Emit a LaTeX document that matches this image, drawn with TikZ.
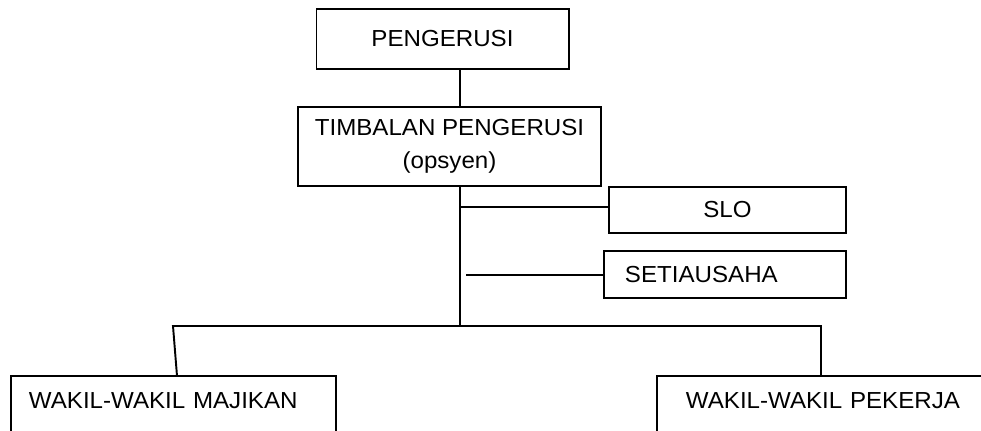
\documentclass[tikz,border=0pt]{standalone}
\usepackage{fontspec}
\setmainfont{Liberation Sans}[FakeStretch=1.04]
\begin{document}
\begin{tikzpicture}[x=0.02cm, y=-0.02cm,
    kotak/.style={draw, line width=1.1pt, inner sep=0pt, font=\fontsize{13.2}{18.5}\selectfont},
    garis/.style={line width=1.1pt}]
    % 1. Bingkai gambar
    \useasboundingbox (0,0) rectangle (981,430);
    \clip (0,0) rectangle (981,430);

    % 2. Kotak-kotak jawatan
    \node[kotak, line width=0.6pt, minimum width=5.06cm, minimum height=1.2cm] (ketua) at (442.5,39) {PENGERUSI};
    \node[kotak, minimum width=6.06cm, minimum height=1.58cm, align=center] (timbalan) at (449.5,146.5) {TIMBALAN PENGERUSI\\(opsyen)};
    \node[kotak, minimum width=4.74cm, minimum height=0.92cm] (slo) at (727.5,210) {SLO};
    \node[kotak, anchor=west, minimum height=0.94cm, inner xsep=0.42cm, text width=4.0cm, align=left] (setia) at (603,274.5) {SETIAUSAHA};
    \node[kotak, anchor=north west, inner xsep=0.36cm, text width=5.78cm, align=left,
        text height=0.66cm, text depth=1.2cm] (majikan) at (10,375) {WAKIL-WAKIL MAJIKAN};
    \node[kotak, anchor=north west, inner xsep=0.58cm, text width=6.84cm, align=left,
        text height=0.66cm, text depth=1.2cm] (pekerja) at (656,375) {WAKIL-WAKIL PEKERJA};

    % 3. Garis penghubung
    \coordinate (simpang) at (460,326);
    \coordinate (kiri) at (173,326);
    \coordinate (kanan) at (821,326);
    \draw[line width=0.6pt] (ketua.south -| simpang) -- (timbalan.north -| simpang);
    \draw[garis] (timbalan.south -| simpang) -- (simpang);
    \draw[garis] ([yshift=0.06cm]slo.west) -- ([yshift=0.06cm]slo.west -| simpang);
    \draw[garis] ([yshift=-0.01cm]setia.west) -- ++(-137,0);
    \draw[garis] ([xshift=0.07cm]majikan.north) -- (kiri) -- (kanan) -- (kanan |- pekerja.north);
\end{tikzpicture}
\end{document}
